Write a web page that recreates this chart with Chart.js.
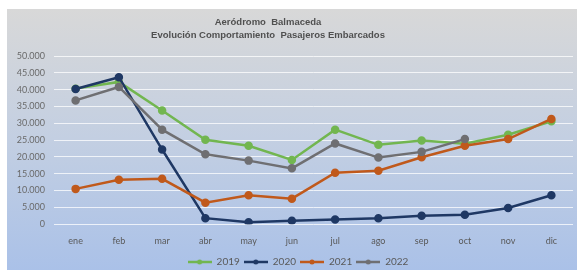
<!DOCTYPE html>
<html>
<head>
<meta charset="utf-8">
<script src="https://cdn.jsdelivr.net/npm/chart.js@4"></script>
<style>
  html, body { margin: 0; padding: 0; background: #ffffff; }
  #wrap { width: 579px; height: 272px; }
</style>
</head>
<body>
<div id="wrap"><canvas id="chart" width="579" height="272"></canvas></div>
<script>
const months = ['ene', 'feb', 'mar', 'abr', 'may', 'jun', 'jul', 'ago', 'sep', 'oct', 'nov', 'dic'];
const pax2019 = [40300, 42300, 33800, 25100, 23300, 19100, 28100, 23600, 24900, 23900, 26600, 30600];
const pax2020 = [40200, 43700, 22200, 1800, 600, 1000, 1400, 1800, 2500, 2800, 4800, 8600];
const pax2021 = [10500, 13200, 13500, 6400, 8600, 7600, 15300, 15900, 19900, 23300, 25300, 31300];
const pax2022 = [36800, 40800, 28100, 20800, 18900, 16600, 24000, 19800, 21500, 25300, null, null];
const titleLines = ['Aeródromo  Balmaceda', 'Evolución Comportamiento  Pasajeros Embarcados'];

// legend marker: short line with a dot in the middle
function legendMarker(color) {
    const c = document.createElement('canvas');
    c.width = 24;
    c.height = 8;
    const g = c.getContext('2d');
    g.strokeStyle = color;
    g.lineWidth = 2.5;
    g.beginPath();
    g.moveTo(0, 4);
    g.lineTo(24, 4);
    g.stroke();
    g.fillStyle = color;
    g.beginPath();
    g.arc(12, 4, 2.5, 0, Math.PI * 2);
    g.fill();
    return c;
}

// gradient box behind everything, and the two title lines (sit a bit left of centre, like the original)
const bgPlugin = {
    id: 'bg',
    afterLayout(chart) {
        // nudge the legend up and right a little, plot area stays where it is
        chart.legend.top -= 4;
        chart.legend.bottom -= 4;
        chart.legend.left += 8;
        chart.legend.right += 8;
    },
    beforeDraw(chart) {
        const ctx = chart.ctx;
        const grad = ctx.createLinearGradient(0, 9, 0, 270);
        grad.addColorStop(0, '#d8d8d8');
        grad.addColorStop(0.5, '#c3cfe2');
        grad.addColorStop(1, '#aac1e8');
        ctx.save();
        ctx.fillStyle = grad;
        ctx.fillRect(7, 9, 570, 261);
        ctx.fillStyle = '#505050';
        ctx.font = 'bold 9.5px "Liberation Sans"';
        ctx.textAlign = 'center';
        ctx.textBaseline = 'middle';
        ctx.fillText(titleLines[0], 268, 22);
        ctx.fillText(titleLines[1], 268, 35);
        ctx.restore();
    }
};

// order: later years drawn on top, as in the original
function makeSet(label, data, color, order) {
    return {
        label: label,
        data: data,
        order: order,
        borderColor: color,
        backgroundColor: color,
        borderWidth: 2.5,
        pointRadius: 3,
        pointHoverRadius: 3,
        pointStyle: 'circle',
        tension: 0,
        legendMarker: legendMarker(color)
    };
}

const ctx = document.getElementById('chart');
new Chart(ctx, {
    type: 'line',
    data: {
        labels: months,
        datasets: [
            makeSet('2019', pax2019, '#72b650', 3),
            makeSet('2020', pax2020, '#1f3864', 2),
            makeSet('2021', pax2021, '#c0591b', 1),
            makeSet('2022', pax2022, '#6f6f72', 0)
        ]
    },
    options: {
        responsive: false,
        animation: false,
        devicePixelRatio: 1,
        layout: { padding: { left: 7, right: 6, top: 56, bottom: -9 } },
        plugins: {
            title: { display: false },
            legend: {
                position: 'bottom',
                labels: {
                    color: '#595959',
                    font: { family: 'Lato', size: 10, lineHeight: 1 },
                    usePointStyle: true,
                    pointStyleWidth: 24,
                    boxHeight: 8,
                    padding: 4,
                    generateLabels(chart) {
                        return chart.data.datasets.map((ds, i) => ({
                            text: ds.label,
                            pointStyle: ds.legendMarker,
                            fillStyle: ds.borderColor,
                            strokeStyle: ds.borderColor,
                            lineWidth: 0,
                            fontColor: '#595959',
                            hidden: false,
                            datasetIndex: i
                        }));
                    }
                }
            },
            tooltip: { enabled: false }
        },
        scales: {
            x: {
                offset: true,
                grid: { display: false, drawTicks: false },
                border: { display: false },
                ticks: {
                    color: '#595959',
                    font: { family: 'Lato', size: 9 },
                    padding: 11
                }
            },
            y: {
                min: 0,
                max: 50000,
                afterFit(scale) { scale.width = 47; },
                grid: { color: 'rgba(255,255,255,0.75)', lineWidth: 1, drawTicks: false },
                border: { display: false },
                ticks: {
                    stepSize: 5000,
                    color: '#6a6a6a',
                    font: { family: 'Lato', size: 9 },
                    padding: 9,
                    callback: v => v === 0 ? '0' : v.toLocaleString('de-DE')
                }
            }
        }
    },
    plugins: [bgPlugin]
});
</script>
</body>
</html>
